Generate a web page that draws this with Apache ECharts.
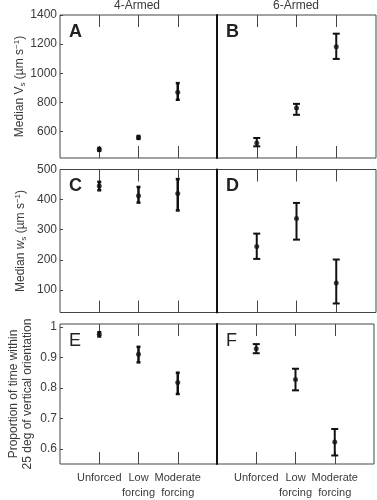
<!DOCTYPE html>
<html>
<head>
<meta charset="utf-8">
<script src="https://cdn.jsdelivr.net/npm/echarts@6/dist/echarts.min.js"></script>
<style>
  html, body { margin: 0; padding: 0; background: #fff; }
  #main { width: 377px; height: 500px; }
</style>
</head>
<body>
<div id="main"></div>
<script>
// x axis slots: empty ends, three forcing levels in the middle
var catNames = ['', 'Unforced', 'Low\nforcing', 'Moderate\nforcing', ''];
var xPos = [1, 2, 3];

// A: median Vs, 4-armed / B: 6-armed
var vs4Med = [479, 561, 871];
var vs4Lo = [469, 551, 819];
var vs4Hi = [489, 571, 933];
var vs6Med = [523, 762, 1183];
var vs6Lo = [500, 716, 1099];
var vs6Hi = [557, 791, 1272];

// C / D: median ws
var ws4Med = [445, 413, 420];
var ws4Lo = [431, 390, 364];
var ws4Hi = [459, 442, 468];
var ws6Med = [244, 337, 123];
var ws6Lo = [203, 267, 55];
var ws6Hi = [287, 389, 201];

// E / F: proportion of time near vertical
var pv4Med = [0.976, 0.911, 0.818];
var pv4Lo = [0.969, 0.884, 0.780];
var pv4Hi = [0.983, 0.935, 0.850];
var pv6Med = [0.929, 0.828, 0.622];
var pv6Lo = [0.914, 0.792, 0.578];
var pv6Hi = [0.944, 0.863, 0.665];

// y tick labels
var vsTicks = [600, 800, 1000, 1200, 1400];
var wsTicks = [100, 200, 300, 400, 500];
var pvTicks = [0.6, 0.7, 0.8, 0.9, 1];

var FONT = 'Liberation Sans';
var TXT = '#3a3a3a';

var rowTop = [15, 169.5, 324];
var rowH = 143;
var colLeft = [60, 217];
var colW = [157, 159];

var rows = [
  { ticks: vsTicks, min: 420, max: 1400, gap: 32,
    name: '{a|Median }{a|V}{sub|s}{a| (µm s}{sup|−1}{a|)}',
    data: [[vs4Med, vs4Lo, vs4Hi], [vs6Med, vs6Lo, vs6Hi]] },
  { ticks: wsTicks, min: 25, max: 500, gap: 32,
    name: '{a|Median }{i|w}{sub|s}{a| (µm s}{sup|−1}{a|)}',
    data: [[ws4Med, ws4Lo, ws4Hi], [ws6Med, ws6Lo, ws6Hi]] },
  { ticks: pvTicks, min: 0.55, max: 1.01, gap: 25,
    name: '{a|Proportion of time within}\n{a|25 deg of vertical orientation}',
    data: [[pv4Med, pv4Lo, pv4Hi], [pv6Med, pv6Lo, pv6Hi]] }
];
var letters = [['A', 'B'], ['C', 'D'], ['E', 'F']];

function midTick(i) { return i >= 1 && i <= 3; }

var grids = [], xAxes = [], yAxes = [], series = [], graphics = [];

rows.forEach(function (row, r) {
  [0, 1].forEach(function (c) {
    var g = grids.length;
    grids.push({
      left: colLeft[c], top: rowTop[r], width: colW[c], height: rowH,
      show: true, borderColor: '#444', borderWidth: 1
    });
    var xi = xAxes.length;
    ['bottom', 'top'].forEach(function (pos) {
      xAxes.push({
        type: 'category', gridIndex: g, position: pos, data: catNames, boundaryGap: false,
        axisLine: { show: false }, splitLine: { show: false },
        axisTick: { inside: true, length: 12, interval: midTick, alignWithLabel: true, lineStyle: { color: '#444' } },
        axisLabel: {
          show: pos === 'bottom' && r === 2, interval: 0, hideOverlap: false,
          fontFamily: FONT, fontSize: 11, color: TXT, lineHeight: 15, margin: 6
        }
      });
    });
    var yi = yAxes.length;
    yAxes.push({
      type: 'value', gridIndex: g, position: 'left', min: row.min, max: row.max,
      splitLine: { show: false },
      axisLine: { show: c === 1, lineStyle: { color: '#111', width: 2 } },
      axisTick: { show: c === 0, inside: true, length: 3, customValues: row.ticks, lineStyle: { color: '#444' } },
      axisLabel: { show: c === 0, customValues: row.ticks, formatter: function (v) { return String(v); },
                   fontFamily: FONT, fontSize: 12, color: TXT, margin: 3 },
      name: c === 0 ? row.name : '', nameLocation: 'middle', nameRotate: 90,
      nameGap: row.gap,
      nameTextStyle: {
        fontFamily: FONT, color: TXT, fontSize: 12,
        rich: {
          a: { fontFamily: FONT, color: TXT, fontSize: 12, lineHeight: 14 },
          i: { fontFamily: FONT, color: TXT, fontSize: 12, fontStyle: 'italic', lineHeight: 14 },
          sub: { fontFamily: FONT, color: TXT, fontSize: 8, verticalAlign: 'bottom', lineHeight: 14 },
          sup: { fontFamily: FONT, color: TXT, fontSize: 8, verticalAlign: 'top', lineHeight: 14 }
        }
      }
    });
    if (c === 1) {
      yAxes.push({
        type: 'value', gridIndex: g, position: 'right', min: row.min, max: row.max,
        splitLine: { show: false }, axisLine: { show: false },
        axisTick: { inside: true, length: 3, customValues: row.ticks, lineStyle: { color: '#444' } },
        axisLabel: { show: false }
      });
    }

    var d = row.data[c];
    var capHalf = c === 0 ? 2 : 3.5;
    var barW = c === 0 ? 2.5 : 2;
    series.push({
      type: 'custom', xAxisIndex: xi, yAxisIndex: yi,
      data: xPos.map(function (x, k) { return [x, d[1][k], d[2][k]]; }),
      renderItem: function (params, api) {
        var x = api.value(0);
        var hi = api.coord([x, api.value(2)]);
        var lo = api.coord([x, api.value(1)]);
        var st = { stroke: '#111', lineWidth: barW };
        return {
          type: 'group',
          children: [
            { type: 'line', shape: { x1: hi[0], y1: hi[1], x2: lo[0], y2: lo[1] }, style: st },
            { type: 'line', shape: { x1: hi[0] - capHalf, y1: hi[1], x2: hi[0] + capHalf, y2: hi[1] }, style: st },
            { type: 'line', shape: { x1: lo[0] - capHalf, y1: lo[1], x2: lo[0] + capHalf, y2: lo[1] }, style: st }
          ]
        };
      },
      z: 2
    });
    series.push({
      type: 'scatter', xAxisIndex: xi, yAxisIndex: yi,
      data: xPos.map(function (x, k) { return [x, d[0][k]]; }),
      symbol: 'circle', symbolSize: 5, itemStyle: { color: '#111' }, z: 3
    });

    graphics.push({
      type: 'text', left: colLeft[c] + 9, top: rowTop[r] + 8,
      style: { text: letters[r][c], fontFamily: FONT, fontSize: 18,
               fontWeight: r === 2 ? 'normal' : 'bold', fill: '#222' }
    });
  });
});

var myChart = echarts.init(document.getElementById('main'));
myChart.setOption({
  animation: false,
  title: [
    { text: '4-Armed', left: 137, top: 0, padding: [0, 0, 0, 0], textAlign: 'center',
      textStyle: { fontFamily: FONT, fontSize: 12, fontWeight: 'normal', color: TXT } },
    { text: '6-Armed', left: 296, top: 0, padding: [0, 0, 0, 0], textAlign: 'center',
      textStyle: { fontFamily: FONT, fontSize: 12, fontWeight: 'normal', color: TXT } }
  ],
  grid: grids,
  xAxis: xAxes,
  yAxis: yAxes,
  series: series,
  graphic: graphics
});
</script>
</body>
</html>
